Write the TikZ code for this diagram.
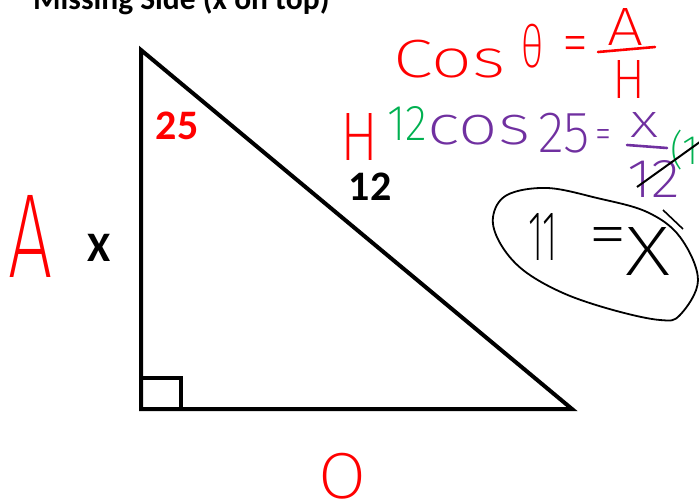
\documentclass[tikz,border=0pt]{standalone}
\usepackage{fontspec}
\usepackage{graphicx}
\setmainfont{Carlito}
\newfontfamily\hwfont{Fira Sans ExtraLight}
\definecolor{inkred}{RGB}{255,0,0}
\definecolor{inkgreen}{RGB}{0,176,80}
\definecolor{inkpurple}{RGB}{112,48,160}
\newcommand{\hwtext}[3]{\resizebox*{#1pt}{#2pt}{\hwfont #3}}
\begin{document}
\begin{tikzpicture}[x=1pt,y=-1pt,
  lbl/.style={inner sep=0pt,font=\fontsize{42}{44}\bfseries\selectfont},
  hw/.style={anchor=north west,inner sep=0pt},
  tri/.style={line width=4pt,line join=miter},
  pen/.style={line width=2.6pt,line cap=round}]
\useasboundingbox (0,0) rectangle (699,503);
% title (cut by the top edge)
\node[anchor=base west,inner sep=0pt,font=\fontsize{31.5}{34}\bfseries\selectfont] (title) at (33,10) {Missing Side (x on top)};
% triangle
\coordinate (T) at (141,50);
\coordinate (B) at (141,409);
\coordinate (R) at (572,409);
\draw[tri] (T) -- (B) -- (R) -- cycle;
\draw[line width=3.5pt] (141,378) -- (181,378) -- (181,409);
% printed labels
\node[lbl,text=inkred] (ang) at (177,126) {25};
\node[lbl] (hyp) at (370,187) {12};
\node[lbl] (adj) at (99,248) {X};
% handwriting, red
\node[hw,text=inkred] (cos) at (393,40) {\hwtext{112}{38}{Cos}};
\node[hw,text=inkred] (theta) at (521,24) {\hwtext{22}{44}{θ}};
\node[hw,text=inkred] (eqa) at (562,36) {\hwtext{26}{27}{=}};
\node[hw,text=inkred] (numA) at (607,8) {\hwtext{36}{37}{A}};
\node[hw,text=inkred] (denH) at (612,60) {\hwtext{33}{38}{H}};
\coordinate (bar1a) at (598,52);
\coordinate (bar1b) at (655,47);
\draw[pen,inkred] (bar1a) -- (bar1b);
\node[hw,text=inkred] (Hleft) at (340,113) {\hwtext{38}{47}{H}};
\node[hw,text=inkred] (Aleft) at (8,195) {\hwtext{44}{82}{A}};
\node[hw,text=inkred] (Obot) at (318,453) {\hwtext{48}{46}{O}};
% handwriting, green
\node[hw,text=inkgreen] (g12) at (387,106) {\hwtext{40}{34}{12}};
\node[hw,text=inkgreen] (gp12) at (670,130) {\hwtext{48}{40}{(12}};
% handwriting, purple
\node[hw,text=inkpurple] (pcos) at (427,115) {\hwtext{103}{30}{cos}};
\node[hw,text=inkpurple] (p25) at (538,113) {\hwtext{52}{40}{25}};
\node[hw,text=inkpurple] (peq) at (595,129) {\hwtext{16}{19}{=}};
\node[hw,text=inkpurple] (px) at (630,112) {\hwtext{28}{25}{x}};
\coordinate (bar2a) at (627,145);
\coordinate (bar2b) at (667,148);
\draw[pen,inkpurple] (bar2a) -- (bar2b);
\node[hw,text=inkpurple] (p12) at (627,160) {\hwtext{53}{37}{12}};
% cancel stroke
\coordinate (slasha) at (637,187);
\coordinate (slashb) at (704,139);
\draw[line width=2pt] (slasha) -- (slashb);
% answer
\node[hw] (b11) at (528,213) {\hwtext{30}{47}{11}};
\node[hw] (beq) at (588,227) {\hwtext{39}{29}{=}};
\node[hw] (bX) at (625,227) {\hwtext{45}{48}{X}};
\draw[line width=1.8pt] plot[smooth cycle,tension=0.6] coordinates {
 (493,217) (507,195) (547,188) (597,198) (647,212) (680,237) (698,280)
 (680,315) (660,320) (613,310) (563,293) (523,270) (500,243)};
\coordinate (taila) at (663,210);
\coordinate (tailb) at (683,229);
\draw[line width=1.6pt] (taila) -- (tailb);
\end{tikzpicture}
\end{document}
